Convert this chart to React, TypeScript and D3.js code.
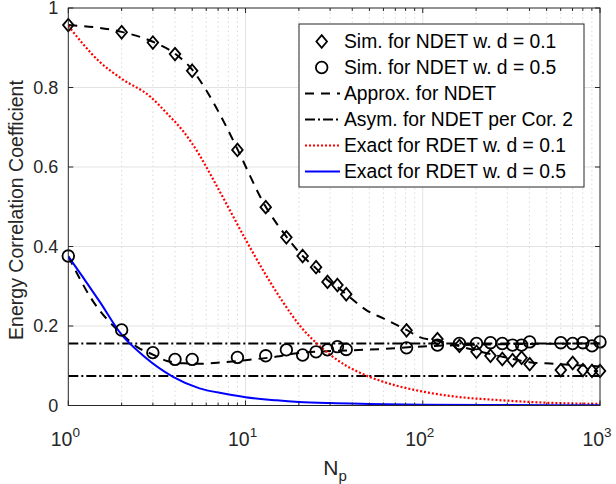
import React, { useEffect, useRef } from 'react';
import * as d3 from 'd3';

// simulation points (N_p)
const simN = [1, 2, 3, 4, 5, 9, 13, 17, 21, 25, 29, 33, 37, 81, 121, 161, 201, 241, 281, 321, 361, 401, 601, 701, 801, 901, 1000];
const simD01 = [0.957, 0.939, 0.913, 0.884, 0.842, 0.643, 0.499, 0.423, 0.376, 0.348, 0.311, 0.303, 0.28, 0.189, 0.167, 0.15, 0.135, 0.125, 0.117, 0.114, 0.12, 0.104, 0.089, 0.107, 0.089, 0.087, 0.087];
const simD05 = [0.376, 0.19, 0.133, 0.116, 0.116, 0.121, 0.125, 0.14, 0.127, 0.135, 0.14, 0.148, 0.141, 0.145, 0.152, 0.156, 0.156, 0.158, 0.156, 0.152, 0.152, 0.16, 0.158, 0.156, 0.158, 0.15, 0.16];

// approximation curves for NDET
const approx01N = [1, 2, 3, 4, 5, 6, 7.8, 9, 13, 17, 21, 25, 29, 33, 37, 48, 60, 81, 96, 121, 150, 200, 300, 400, 550, 1000];
const approx01 = [0.957, 0.94, 0.915, 0.885, 0.845, 0.793, 0.701, 0.645, 0.5, 0.425, 0.376, 0.345, 0.316, 0.298, 0.28, 0.24, 0.219, 0.19, 0.172, 0.163, 0.153, 0.138, 0.12, 0.109, 0.105, 0.098];
const approx05N = [1, 1.38, 2, 2.45, 3, 3.6, 4.5, 5.5, 7.5, 10, 15, 19, 30, 46, 58, 94, 200, 400, 1000];
const approx05 = [0.375, 0.262, 0.18, 0.147, 0.128, 0.112, 0.106, 0.105, 0.109, 0.114, 0.123, 0.131, 0.137, 0.14, 0.142, 0.148, 0.153, 0.155, 0.156];

// asymptotes per Cor. 2
const asymLevels = [0.156, 0.074];

// exact RDET curves
const red01N = [1, 1.5, 2, 2.9, 3.6, 4.45, 5.5, 6.4, 7.7, 10, 12.8, 16, 20.5, 25, 30.6, 37, 43, 50, 56, 71, 100, 155, 260, 500, 1000];
const red01 = [0.955, 0.865, 0.822, 0.777, 0.735, 0.69, 0.63, 0.578, 0.512, 0.418, 0.334, 0.265, 0.198, 0.158, 0.125, 0.1, 0.085, 0.072, 0.064, 0.05, 0.035, 0.022, 0.014, 0.007, 0.004];
const blue05N = [1, 1.2, 1.5, 2, 2.65, 3.9, 5.5, 7.8, 10, 15, 20, 30, 50, 100, 300, 1000];
const blue05 = [0.375, 0.325, 0.262, 0.178, 0.125, 0.072, 0.043, 0.029, 0.021, 0.013, 0.009, 0.006, 0.004, 0.002, 0.001, 0.0005];

const xTicks = [1, 10, 100, 1000];
const xTickExp = ['0', '1', '2', '3'];
const yTicks = [0, 0.2, 0.4, 0.6, 0.8, 1];
const yTickLabels = ['0', '0.2', '0.4', '0.6', '0.8', '1'];

const legendLabels = [
  'Sim. for NDET w. d = 0.1',
  'Sim. for NDET w. d = 0.5',
  'Approx. for NDET',
  'Asym. for NDET per Cor. 2',
  'Exact for RDET w. d = 0.1',
  'Exact for RDET w. d = 0.5',
];

const FONT = '"Liberation Sans", Arial, Helvetica, sans-serif';
const DASH = '9,7';
const DASHDOT = '10,3,2,3';
const DOT = '2,2';

const diamondPath = 'M0,-6.3L5.3,0L0,6.3L-5.3,0Z';

export default function App() {
  const svgRef = useRef<SVGSVGElement>(null);

  useEffect(() => {
    const svg = d3.select(svgRef.current);
    svg.selectAll('*').remove();

    const left = 68.3, right = 600, top = 8, bottom = 405.5;
    const x = d3.scaleLog().domain([1, 1000]).range([left, right]);
    const y = d3.scaleLinear().domain([0, 1]).range([bottom, top]);

    svg.append('rect').attr('width', 616).attr('height', 484).attr('fill', '#fff');
    svg.append('defs').append('clipPath').attr('id', 'plotclip')
      .append('rect').attr('x', left).attr('y', top).attr('width', right - left).attr('height', bottom - top);

    // minor grid
    const minors: number[] = [];
    [1, 10, 100].forEach(dec => { for (let k = 2; k <= 9; k++) minors.push(k * dec); });
    svg.append('g').selectAll('line').data(minors).enter().append('line')
      .attr('x1', d => x(d)).attr('x2', d => x(d)).attr('y1', top).attr('y2', bottom)
      .attr('stroke', '#d0d0d0').attr('stroke-width', 0.8).attr('stroke-dasharray', '1.5,3');

    // major grid
    const grid = svg.append('g').attr('stroke', '#e3e3e3').attr('stroke-width', 1);
    xTicks.slice(1, -1).forEach(t => grid.append('line').attr('x1', x(t)).attr('x2', x(t)).attr('y1', top).attr('y2', bottom));
    yTicks.slice(1, -1).forEach(t => grid.append('line').attr('x1', left).attr('x2', right).attr('y1', y(t)).attr('y2', y(t)));

    const plot = svg.append('g').attr('clip-path', 'url(#plotclip)');
    const line = (xs: number[], ys: number[]) => d3.line<number>()
      .x(d => x(xs[d])).y(d => y(ys[d])).curve(d3.curveMonotoneX)(xs.map((_, i) => i));

    // approx curves
    [[approx01N, approx01], [approx05N, approx05]].forEach(([xs, ys]) => {
      plot.append('path').attr('d', line(xs, ys)).attr('fill', 'none')
        .attr('stroke', '#000').attr('stroke-width', 2).attr('stroke-dasharray', DASH);
    });

    // asymptotes
    asymLevels.forEach(v => {
      plot.append('line').attr('x1', left).attr('x2', right).attr('y1', y(v)).attr('y2', y(v))
        .attr('stroke', '#000').attr('stroke-width', 2).attr('stroke-dasharray', DASHDOT);
    });

    plot.append('path').attr('d', line(red01N, red01)).attr('fill', 'none')
      .attr('stroke', '#ff0000').attr('stroke-width', 2.2).attr('stroke-dasharray', DOT);
    plot.append('path').attr('d', line(blue05N, blue05)).attr('fill', 'none')
      .attr('stroke', '#0000ff').attr('stroke-width', 2);

    // sim markers
    svg.append('g').selectAll('path').data(simN).enter().append('path')
      .attr('d', diamondPath)
      .attr('transform', (d, i) => `translate(${x(d)},${y(simD01[i])})`)
      .attr('fill', 'none').attr('stroke', '#000').attr('stroke-width', 1.8);
    svg.append('g').selectAll('circle').data(simN).enter().append('circle')
      .attr('cx', d => x(d)).attr('cy', (d, i) => y(simD05[i])).attr('r', 5.8)
      .attr('fill', 'none').attr('stroke', '#000').attr('stroke-width', 1.8);

    // axes box and ticks
    const ax = svg.append('g').attr('stroke', '#262626').attr('stroke-width', 1).attr('fill', 'none');
    ax.append('rect').attr('x', left).attr('y', top).attr('width', right - left).attr('height', bottom - top);
    xTicks.forEach(t => {
      ax.append('line').attr('x1', x(t)).attr('x2', x(t)).attr('y1', bottom).attr('y2', bottom - 5);
      ax.append('line').attr('x1', x(t)).attr('x2', x(t)).attr('y1', top).attr('y2', top + 5);
    });
    minors.forEach(t => {
      ax.append('line').attr('x1', x(t)).attr('x2', x(t)).attr('y1', bottom).attr('y2', bottom - 3);
      ax.append('line').attr('x1', x(t)).attr('x2', x(t)).attr('y1', top).attr('y2', top + 3);
    });
    yTicks.forEach(t => {
      ax.append('line').attr('x1', left).attr('x2', left + 5).attr('y1', y(t)).attr('y2', y(t));
      ax.append('line').attr('x1', right).attr('x2', right - 5).attr('y1', y(t)).attr('y2', y(t));
    });

    // tick labels
    const txt = svg.append('g').attr('font-family', FONT).attr('fill', '#262626');
    yTicks.forEach((t, i) => {
      txt.append('text').attr('x', left - 10).attr('y', y(t)).attr('dy', '0.36em')
        .attr('text-anchor', 'end').attr('font-size', 18).text(yTickLabels[i]);
    });
    xTicks.forEach((t, i) => {
      const tx = txt.append('text').attr('x', x(t) - 3).attr('y', 446).attr('text-anchor', 'middle').attr('font-size', 19.5);
      tx.append('tspan').text('10');
      tx.append('tspan').attr('dy', -9).attr('font-size', 13.5).text(xTickExp[i]);
    });

    // axis titles
    const xl = txt.append('text').attr('x', 335).attr('y', 475).attr('text-anchor', 'middle').attr('font-size', 21);
    xl.append('tspan').text('N');
    xl.append('tspan').attr('dy', 6).attr('font-size', 15).text('p');
    txt.append('text').attr('transform', 'translate(23,210) rotate(-90)')
      .attr('text-anchor', 'middle').attr('font-size', 19.5).text('Energy Correlation Coefficient');

    // legend
    const lg = svg.append('g');
    lg.append('rect').attr('x', 299).attr('y', 24).attr('width', 285).attr('height', 163)
      .attr('fill', '#fff').attr('stroke', '#262626').attr('stroke-width', 1);
    const rowY = (i: number) => 41.5 + i * 26;
    lg.append('path').attr('d', diamondPath).attr('transform', `translate(321.7,${rowY(0)})`)
      .attr('fill', 'none').attr('stroke', '#000').attr('stroke-width', 1.8);
    lg.append('circle').attr('cx', 321.7).attr('cy', rowY(1)).attr('r', 5.8)
      .attr('fill', 'none').attr('stroke', '#000').attr('stroke-width', 1.8);
    const legLines = [
      { i: 2, color: '#000', dash: DASH, w: 2 },
      { i: 3, color: '#000', dash: DASHDOT, w: 2 },
      { i: 4, color: '#ff0000', dash: DOT, w: 2.2 },
      { i: 5, color: '#0000ff', dash: null, w: 2 },
    ];
    legLines.forEach(l => {
      lg.append('line').attr('x1', 305).attr('x2', 340).attr('y1', rowY(l.i)).attr('y2', rowY(l.i))
        .attr('stroke', l.color).attr('stroke-width', l.w).attr('stroke-dasharray', l.dash);
    });
    legendLabels.forEach((s, i) => {
      lg.append('text').attr('x', 344).attr('y', rowY(i)).attr('dy', '0.36em')
        .attr('font-family', FONT).attr('font-size', 19.3).attr('fill', '#000').text(s);
    });
  }, []);

  return (
    <svg ref={svgRef} width={616} height={484}
      style={{ position: 'absolute', left: 0, top: 0 }} />
  );
}
